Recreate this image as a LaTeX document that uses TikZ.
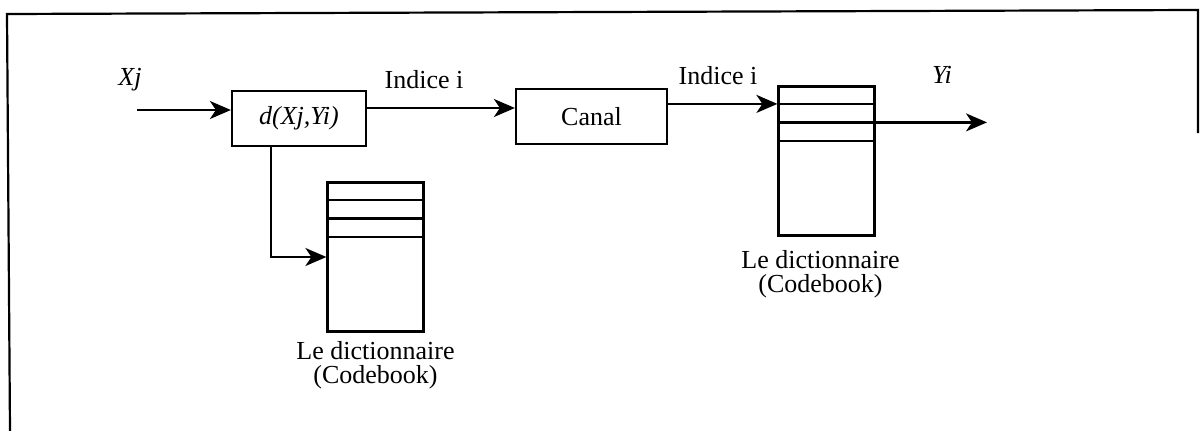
\documentclass[tikz,border=0pt]{standalone}
\usepackage{fontspec}
\setmainfont{Liberation Serif}
\usetikzlibrary{arrows.meta,calc}
\begin{document}
\begin{tikzpicture}[x=1pt,y=-1pt,
  line width=2.2pt,
  every node/.style={font=\fontsize{26}{24}\selectfont},
  arr/.style={-{Stealth[length=21pt,width=18pt,inset=6pt]}},
  blk/.style={draw, rectangle, inner sep=0pt, minimum height=55pt},
  book/.style={draw, rectangle, inner sep=0pt, minimum width=96pt, minimum height=149pt},
  lbl/.style={inner sep=0pt, anchor=base},
  booklabel/.style={inner sep=0pt, anchor=north, align=center}]
\useasboundingbox (0,0) rectangle (1200,431);

% outer frame
\draw (10,431) -- (7,14) -- (1198,10) -- (1198,133);

% blocks
\node[blk, minimum width=134pt] (d) at (299,118.5) {\textit{d(Xj,Yi)}};
\node[blk, minimum width=151pt] (canal) at (591.5,116.5) {Canal};

% codebooks
\node[book] (cb1) at (375.5,257) {};
\node[book] (cb2) at (826.5,161) {};
\foreach \k in {18.5,37,55.5}{
  \draw ($(cb1.north west)+(0,\k)$) -- ($(cb1.north east)+(0,\k)$);
  \draw ($(cb2.north west)+(0,\k)$) -- ($(cb2.north east)+(0,\k)$);
}
\node[booklabel] (cap1) at ($(cb1.south)+(0,8)$) {Le dictionnaire\\(Codebook)};
\node[booklabel] (cap2) at ($(cb2.south)+(-6,13)$) {Le dictionnaire\\(Codebook)};

% signal labels
\node[lbl] (xj) at (130,85) {\textit{Xj}};
\node[lbl] (idx1) at (424,88) {Indice i};
\node[lbl] (idx2) at (718,84) {Indice i};
\node[lbl] (yi) at (942,83) {\textit{Yi}};

% connectors
\coordinate (xin) at (137,110);
\coordinate (mid) at (0,108);
\coordinate (tap) at (271,0);
\coordinate (yout) at (987,0);
\coordinate (cb2in) at ($(cb2.north west)+(0,18.5)$);
\coordinate (cb2out) at ($(cb2.north east)+(0,37)$);

\draw[arr] (xin) -- (xin -| d.west);
\draw[arr] (d.east |- mid) -- (canal.west |- mid);
\draw[arr] (canal.east |- cb2in) -- (cb2in);
\draw[arr] (cb2out) -- (cb2out -| yout);
\draw[arr] (d.south -| tap) |- (cb1.west);
\end{tikzpicture}
\end{document}
